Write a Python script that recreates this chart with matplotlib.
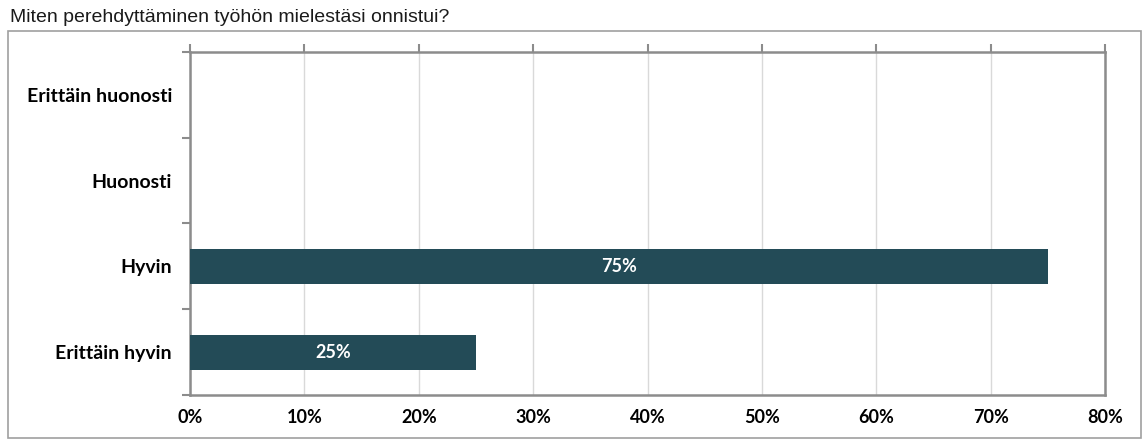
import matplotlib
matplotlib.use('Agg')
import matplotlib.pyplot as plt
from matplotlib.patches import Rectangle
from matplotlib.ticker import FuncFormatter

## data
title = 'Miten perehdyttäminen työhön mielestäsi onnistui?'
categories = ['Erittäin huonosti', 'Huonosti', 'Hyvin', 'Erittäin hyvin']
values = [0, 0, 75, 25]
xticks = [0, 10, 20, 30, 40, 50, 60, 70, 80]

bar_color = '#234b57'
spine_color = '#8c8c8c'


def plot():
    fig = plt.figure(figsize=(11.42, 4.48), dpi=100)
    fig.patch.set_facecolor('white')

    # outer frame
    fig.patches.append(Rectangle((8 / 1142, 1 - 438 / 448), 1133 / 1142, 407 / 448,
                                 transform=fig.transFigure, fill=False,
                                 edgecolor='#a0a0a0', linewidth=1.2))
    fig.text(10 / 1142, 1 - 18 / 448, title, fontsize=14, family='Liberation Sans',
             color='#1a1a1a', va='center', ha='left')

    ax = fig.add_axes([190 / 1142, 1 - 395 / 448, 915 / 1142, 343 / 448])
    ypos = list(range(len(categories)))[::-1]
    ax.barh(ypos, values, height=0.41, color=bar_color, zorder=3)
    for y, v in zip(ypos, values):
        if v > 0:
            ax.text(v / 2, y, f'{v}%', color='white', fontweight='bold',
                    fontsize=13, family='Lato', ha='center', va='center', zorder=4)

    ax.set_xlim(0, 80)
    ax.set_ylim(-0.5, 3.5)
    ax.set_xticks(xticks)
    ax.xaxis.set_major_formatter(FuncFormatter(lambda x, p: f'{int(x)}%'))
    ax.tick_params(axis='x', top=True, bottom=False, labeltop=False, labelbottom=True,
                   direction='out', length=6, width=1.5, color=spine_color, pad=4)
    for lab in ax.get_xticklabels():
        lab.set_fontweight('bold')
        lab.set_family('Lato')
        lab.set_fontsize(13)

    ax.set_yticks([-0.5, 0.5, 1.5, 2.5, 3.5])
    ax.set_yticklabels([])
    ax.set_yticks(ypos, minor=True)
    ax.set_yticklabels(categories, minor=True, fontweight='bold', family='Lato', fontsize=14)
    ax.tick_params(axis='y', which='major', direction='out', length=6, width=1.5, color=spine_color)
    ax.tick_params(axis='y', which='minor', length=0, pad=13)

    ax.grid(axis='x', color='#d9d9d9', linewidth=1, zorder=0)
    for s in ax.spines.values():
        s.set_color(spine_color)
        s.set_linewidth(1.8)

    plt.savefig('out.png', dpi=100)


if __name__ == '__main__':
    plot()
